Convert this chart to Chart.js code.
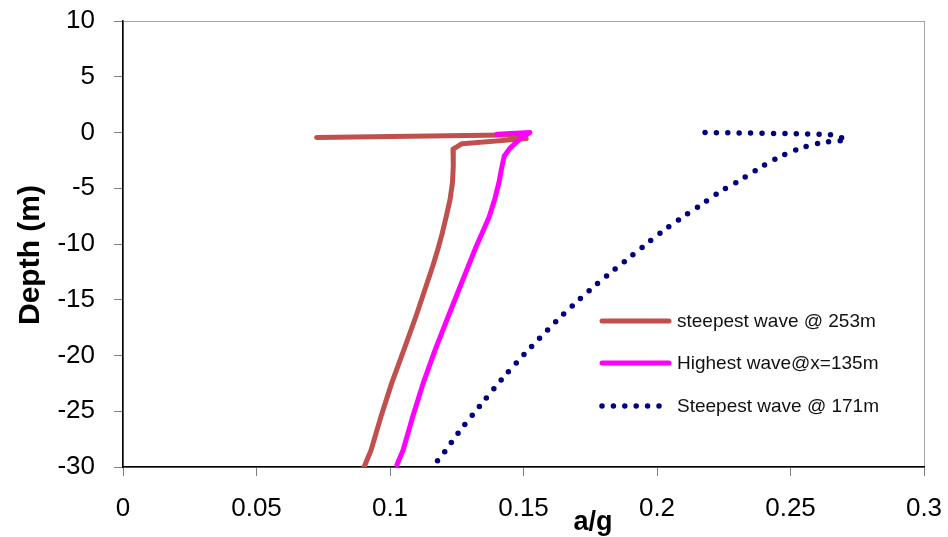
<!DOCTYPE html>
<html>
<head>
<meta charset="utf-8">
<script src="https://cdn.jsdelivr.net/npm/chart.js@4/dist/chart.umd.min.js"></script>
<style>
  html, body { margin: 0; padding: 0; background: #fff; }
  #wrap { width: 948px; height: 537px; position: relative; }
</style>
</head>
<body>
<div id="wrap"><canvas id="c"></canvas></div>
<script>
// ===== DATA =====
const SERIES_NAMES = ['steepest wave @ 253m', 'Highest wave@x=135m', 'Steepest wave @ 171m'];

// steepest wave @ 253m
const red_ag    = [0.0725, 0.150, 0.151, 0.127, 0.1236, 0.1237, 0.1234, 0.1225, 0.121, 0.1196, 0.1179, 0.116, 0.1139, 0.1097, 0.1052, 0.1006, 0.0966, 0.0929, 0.0903];
const red_depth = [-0.45, -0.2, -0.55, -1.0, -1.5, -3.0, -4.5, -6.0, -7.6, -9.0, -10.5, -12.0, -13.5, -16.5, -19.5, -22.5, -25.5, -28.5, -30.0];

// Highest wave@x=135m
const mag_ag    = [0.140, 0.1524, 0.149, 0.145, 0.1428, 0.1418, 0.1408, 0.1392, 0.1371, 0.1318, 0.1268, 0.1218, 0.1169, 0.1124, 0.1085, 0.1049, 0.1026];
const mag_depth = [-0.15, 0.0, -0.5, -1.4, -2.1, -3.2, -4.5, -6.0, -7.6, -10.5, -13.5, -16.5, -19.5, -22.5, -25.5, -28.5, -29.8];

// Steepest wave @ 171m
const blue_ag    = [0.218, 0.2614, 0.2653, 0.2708, 0.262, 0.254, 0.2458, 0.2383, 0.231, 0.2236, 0.2165, 0.2095, 0.2024, 0.1955, 0.1887, 0.182, 0.1755, 0.169, 0.1628, 0.1506, 0.142, 0.1337, 0.1257, 0.1206, 0.1166];
const blue_depth = [0.0, -0.15, -0.22, -0.65, -0.9, -1.4, -2.2, -3.2, -4.3, -5.3, -6.5, -7.6, -8.8, -10.1, -11.4, -12.7, -14.0, -15.4, -16.8, -19.8, -22.1, -24.5, -26.9, -28.6, -29.8];

const xTicks      = [0, 0.05, 0.1, 0.15, 0.2, 0.25, 0.3];
const xTickLabels = ['0', '0.05', '0.1', '0.15', '0.2', '0.25', '0.3'];
const yTicks      = [10, 5, 0, -5, -10, -15, -20, -25, -30];
const yTickLabels = ['10', '5', '0', '-5', '-10', '-15', '-20', '-25', '-30'];

const FONT = '"Liberation Sans", Arial, sans-serif';
const toPts = (xs, ys) => xs.map((v, i) => ({ x: v, y: ys[i] }));

// ===== PLUGINS =====
// gray plot-area box, drawn under the black axes
const plotBox = {
  id: 'plotBox',
  beforeDraw(chart) {
    const { ctx, chartArea: a } = chart;
    ctx.save();
    ctx.strokeStyle = '#a6a6a6';
    ctx.lineWidth = 1;
    ctx.strokeRect(a.left + 0.5, a.top + 0.5, a.right - a.left, a.bottom - a.top);
    ctx.restore();
  },
};

// axis titles + legend inside the plot
const extras = {
  id: 'extras',
  afterDraw(chart) {
    const { ctx } = chart;
    ctx.save();
    ctx.fillStyle = '#000';
    ctx.font = 'bold 27px ' + FONT;
    ctx.textAlign = 'center';
    ctx.textBaseline = 'alphabetic';
    ctx.fillText('a/g', 593, 530);

    ctx.font = 'bold 30px ' + FONT;
    ctx.translate(39, 255);
    ctx.rotate(-Math.PI / 2);
    ctx.fillText('Depth (m)', 0, 0);
    ctx.restore();

    // legend
    const rows = [321, 363, 406];
    chart.data.datasets.forEach((ds, i) => {
      const y = rows[i];
      ctx.save();
      ctx.strokeStyle = ds.borderColor;
      ctx.lineWidth = ds.borderWidth;
      ctx.lineCap = 'round';
      ctx.setLineDash(ds.borderDash || []);
      ctx.beginPath();
      ctx.moveTo(602, y);
      ctx.lineTo(ds.borderDash ? 662 : 669, y);
      ctx.stroke();
      ctx.restore();

      ctx.save();
      ctx.fillStyle = '#111';
      ctx.font = '19px ' + FONT;
      ctx.textAlign = 'left';
      ctx.textBaseline = 'middle';
      ctx.fillText(ds.label, 677, y + 1);
      ctx.restore();
    });
  },
};

// ===== CHART =====
new Chart(document.getElementById('c'), {
  type: 'scatter',
  data: {
    datasets: [
      {
        label: SERIES_NAMES[0],
        data: toPts(red_ag, red_depth),
        showLine: true,
        borderColor: '#c0504d',
        borderWidth: 5,
        borderCapStyle: 'round',
        borderJoinStyle: 'round',
        pointRadius: 0,
        tension: 0,
        order: 3,
      },
      {
        label: SERIES_NAMES[1],
        data: toPts(mag_ag, mag_depth),
        showLine: true,
        borderColor: '#ff00ff',
        borderWidth: 5,
        borderCapStyle: 'round',
        borderJoinStyle: 'round',
        pointRadius: 0,
        tension: 0,
        order: 2,
      },
      {
        label: SERIES_NAMES[2],
        data: toPts(blue_ag, blue_depth),
        showLine: true,
        borderColor: '#000080',
        borderWidth: 5.5,
        borderDash: [0, 11.4],
        borderCapStyle: 'round',
        borderJoinStyle: 'round',
        pointRadius: 0,
        tension: 0.3,
        order: 1,
      },
    ],
  },
  options: {
    responsive: true, maintainAspectRatio: false,
    animation: false,
    layout: { padding: { top: 21, right: 24, left: 0, bottom: 0 } },
    plugins: { legend: { display: false }, tooltip: { enabled: false } },
    scales: {
      x: {
        type: 'linear', min: 0, max: 0.3,
        afterBuildTicks: (s) => { s.ticks = xTicks.map(v => ({ value: v })); },
        afterFit: (s) => { s.height = 70; s.paddingLeft = 0; s.paddingRight = 0; },
        grid: { drawOnChartArea: false, drawTicks: true, tickLength: 9, color: '#808080' },
        border: { color: '#000', width: 1.5 },
        ticks: {
          padding: 17, color: '#000', maxRotation: 0, autoSkip: false,
          font: { family: FONT, size: 26 },
          callback: (v, i) => xTickLabels[i],
        },
      },
      y: {
        type: 'linear', min: -30, max: 10,
        afterBuildTicks: (s) => { s.ticks = yTicks.slice().reverse().map(v => ({ value: v })); },
        afterFit: (s) => { s.width = 123; s.paddingTop = 0; s.paddingBottom = 0; },
        grid: { drawOnChartArea: false, drawTicks: true, tickLength: 9, color: '#808080' },
        border: { color: '#000', width: 1.5 },
        ticks: {
          padding: 19, color: '#000', autoSkip: false,
          font: { family: FONT, size: 26 },
          callback: (v, i, t) => yTickLabels[yTicks.indexOf(t[i].value)],
        },
      },
    },
  },
  plugins: [plotBox, extras],
});
</script>
</body>
</html>
